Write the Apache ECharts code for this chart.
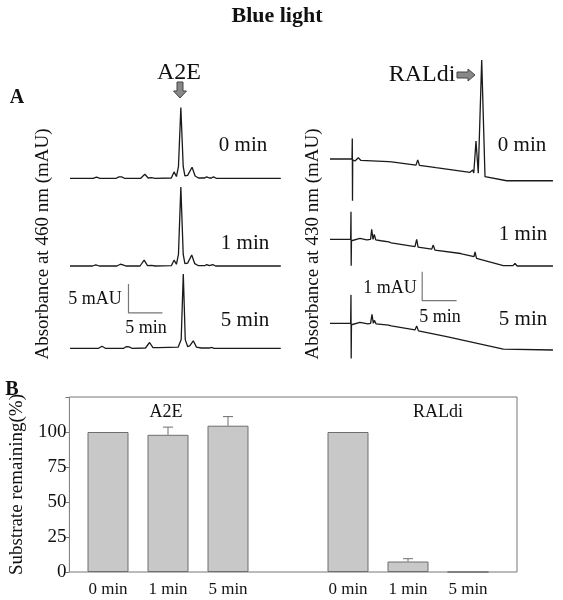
<!DOCTYPE html>
<html>
<head>
<meta charset="utf-8">
<script src="https://cdn.jsdelivr.net/npm/echarts@6/dist/echarts.min.js"></script>
<style>html,body{margin:0;padding:0;background:#fff}#c{width:563px;height:600px}</style>
</head>
<body>
<div id="c"></div>
<script>
// ---------- Panel B data ----------
const barCategories = ['0 min', '1 min', '5 min', '', '0 min', '1 min', '5 min'];
const a2eRemaining = [100, 98, 104.5];
const a2eError = [0, 5.5, 6.5];
const raldiRemaining = [100, 7.5, 0];
const raldiError = [0, 2, 0];
const yTicks = [0, 25, 50, 75, 100];
const groupLabels = ['A2E', 'RALdi'];

// ---------- Panel A data: [time (min), absorbance (mAU)] ----------
const a2eTrace0 = [[0,0],[3.4,0],[3.9,0.2],[4.4,0],[6.8,0],[7.2,0.25],[7.4,0.1],[7.6,0.25],[8.0,0],[10.4,0],[11.0,0.7],[11.5,0.05],[12.0,0.1],[12.5,0],[14.9,0.05],[15.3,1.1],[15.65,0.3],[15.95,2.0],[16.3,12.2],[16.65,2.0],[16.9,0.4],[17.3,0.5],[17.95,1.9],[18.4,0.4],[18.9,0.05],[19.8,0.05],[20.1,0.25],[20.5,0.05],[20.8,0.05],[21.1,0.25],[21.5,0],[31,0]];
const a2eTrace1 = [[0,0],[3.3,0],[3.8,0.2],[4.3,0],[6.9,0],[7.4,0.3],[7.6,0.1],[7.8,0.2],[8.2,0],[10.3,0],[10.9,1.0],[11.4,0.05],[12.0,0.1],[12.5,0],[14.9,0.05],[15.3,1.0],[15.65,0.3],[15.95,2.0],[16.3,13.6],[16.65,2.0],[16.9,0.4],[17.3,0.5],[17.9,1.9],[18.35,0.4],[18.9,0.05],[19.8,0.05],[20.1,0.25],[20.5,0.05],[20.7,0.05],[21.0,0.25],[21.4,0],[31,0]];
const a2eTrace5 = [[0,0],[4.2,0],[4.7,0.35],[5.2,0],[7.9,0],[8.3,0.3],[8.5,0.15],[8.7,0.25],[9.1,0],[11.1,0.05],[11.7,1.0],[12.2,0.1],[13.0,0.1],[15.9,0.2],[16.1,0.3],[16.35,1.5],[16.66,12.8],[16.95,1.5],[17.3,0.3],[17.6,0.4],[18.13,1.3],[18.6,0.2],[19.3,0.05],[20.5,0.05],[20.8,0.15],[21.2,0],[31,0]];

const raldiTrace0 = [[0,0],[3.2,0],[3.24,0.71],[3.27,-1.44],[3.3,-0.03],[3.63,-0.07],[4.11,0.04],[4.5,-0.05],[8.5,-0.09],[8.72,-0.03],[8.95,-0.1],[12.5,-0.21],[12.75,-0.03],[13.0,-0.22],[14.9,-0.28],[15.12,-0.22],[15.4,-0.3],[20.35,-0.46],[20.74,-0.38],[20.9,-0.48],[21.22,0.62],[21.55,-0.49],[22.05,3.41],[22.53,-0.61],[25.68,-0.75],[32.4,-0.75]];
const raldiTrace1 = [[0,0],[3.0,0],[3.05,0.95],[3.08,-0.91],[3.12,-0.05],[3.39,-0.08],[4.36,0.03],[5.33,-0.02],[5.9,0],[6.06,0.34],[6.25,0.0],[6.44,0.17],[6.65,-0.02],[7.41,-0.05],[7.55,0],[7.7,-0.08],[8.53,-0.09],[8.7,-0.05],[8.9,-0.12],[12.35,-0.25],[12.6,0.0],[12.8,-0.27],[14.78,-0.34],[15.01,-0.2],[15.25,-0.37],[19.0,-0.49],[19.14,-0.45],[19.3,-0.51],[20.93,-0.6],[21.08,-0.43],[21.3,-0.66],[21.56,-0.68],[25.19,-0.91],[26.6,-0.91],[26.89,-0.83],[27.2,-0.92],[32.41,-0.92]];
const raldiTrace5 = [[0,0],[3.0,0],[3.05,0.98],[3.08,-1.21],[3.12,-0.05],[3.39,-0.08],[4.36,0.03],[5.5,-0.02],[5.9,0],[6.1,0.31],[6.3,0.0],[6.45,0.1],[6.7,-0.02],[8.53,-0.06],[8.7,-0.02],[8.9,-0.09],[12.35,-0.23],[12.6,-0.09],[12.85,-0.26],[13.08,-0.26],[16.96,-0.46],[25.19,-0.89],[32.41,-0.92]];

// scale bars: [time, mAU] origin, length in min and mAU
const a2eScale = {t: 8.6, y: 6.1, dt: 5, dy: 5};
const raldiScale = {t: 13.4, y: 0.78, dt: 5, dy: 1};
const timeLabels = ['0 min', '1 min', '5 min'];

// ---------- build option ----------
const serif = '"Liberation Serif", "Times New Roman", serif';
const black = '#111';
const traceColor = '#1a1a1a';

const leftTops = [97.1, 184.8, 267.1];
const rightTops = [54.6, 134.9, 218.9];
const grids = [], xAxes = [], yAxes = [], series = [];

leftTops.forEach(function (top) {
  grids.push({left: 70, top: top, width: 210.8, height: 87});
  xAxes.push({type: 'value', min: 0, max: 31, show: false, gridIndex: grids.length - 1});
  yAxes.push({type: 'value', min: -1, max: 14, show: false, gridIndex: grids.length - 1});
});
rightTops.forEach(function (top) {
  grids.push({left: 330, top: top, width: 223.6, height: 150.8});
  xAxes.push({type: 'value', min: 0, max: 32.5, show: false, gridIndex: grids.length - 1});
  yAxes.push({type: 'value', min: -1.6, max: 3.6, show: false, gridIndex: grids.length - 1});
});

[a2eTrace0, a2eTrace1, a2eTrace5, raldiTrace0, raldiTrace1, raldiTrace5].forEach(function (d, i) {
  series.push({type: 'line', xAxisIndex: i, yAxisIndex: i, data: d, symbol: 'none',
    lineStyle: {color: traceColor, width: 1.3}, clip: false, silent: true});
});

function scaleBar(s, idx) {
  series.push({type: 'line', xAxisIndex: idx, yAxisIndex: idx, symbol: 'none', silent: true,
    data: [[s.t, s.y + s.dy], [s.t, s.y], [s.t + s.dt, s.y]],
    lineStyle: {color: '#777', width: 1.2}});
}
scaleBar(a2eScale, 2);
scaleBar(raldiScale, 5);

// Panel B grids
grids.push({left: 67, right: 46, top: 397, bottom: 28, show: true, borderColor: '#777', borderWidth: 1});
xAxes.push({type: 'value', gridIndex: 6, show: false, min: 0, max: 1});
yAxes.push({type: 'value', gridIndex: 6, min: 0, max: 125, interval: 25,
  axisLine: {show: false}, splitLine: {show: false},
  axisTick: {show: true, length: 4, inside: false, lineStyle: {color: '#777'}},
  axisLabel: {color: black, fontFamily: serif, fontSize: 19, margin: 3,
    formatter: function (v) { return yTicks.indexOf(v) >= 0 ? String(v) : ''; }},
  name: 'Substrate remaining(%)', nameLocation: 'middle', nameGap: 42,
  nameTextStyle: {color: black, fontFamily: serif, fontSize: 19}});

grids.push({left: 78, width: 420, top: 397, bottom: 28});
xAxes.push({type: 'category', gridIndex: 7, data: barCategories,
  axisLine: {show: false}, axisTick: {show: false},
  axisLabel: {color: black, fontFamily: serif, fontSize: 17, margin: 9, interval: 0}});
yAxes.push({type: 'value', gridIndex: 7, min: 0, max: 125, show: false});

const barValues = a2eRemaining.concat(['-']).concat(raldiRemaining);
const errValues = a2eError.concat([0]).concat(raldiError);
series.push({type: 'bar', xAxisIndex: 7, yAxisIndex: 7, data: barValues, barWidth: 41,
  itemStyle: {color: '#c8c8c8', borderColor: '#6e6e6e', borderWidth: 1}, silent: true});
series.push({type: 'custom', xAxisIndex: 7, yAxisIndex: 7, silent: true,
  data: barValues.map(function (v, i) { return [i, v === '-' ? 0 : v, errValues[i]]; })
    .filter(function (d) { return d[2] > 0; }),
  renderItem: function (params, api) {
    const base = api.coord([api.value(0), api.value(1)]);
    const top = api.coord([api.value(0), api.value(1) + api.value(2)]);
    return {type: 'group', children: [
      {type: 'line', shape: {x1: base[0], y1: base[1], x2: top[0], y2: top[1]}, style: {stroke: '#6e6e6e', lineWidth: 1}},
      {type: 'line', shape: {x1: top[0] - 5, y1: top[1], x2: top[0] + 5, y2: top[1]}, style: {stroke: '#6e6e6e', lineWidth: 1}}
    ]};
  }});

function txt(x, y, text, size, opts) {
  return Object.assign({type: 'text', x: x, y: y, silent: true,
    style: {text: text, fill: black, font: (opts && opts.bold ? 'bold ' : '') + size + 'px ' + serif,
      textAlign: 'center', textVerticalAlign: 'middle'}}, opts && opts.rot ? {rotation: Math.PI / 2} : {});
}

const graphics = [
  txt(277, 16, 'Blue light', 22, {bold: true}),
  txt(17, 98, 'A', 20, {bold: true}),
  txt(12, 390, 'B', 20, {bold: true}),
  txt(179, 73, 'A2E', 24),
  txt(422, 75, 'RALdi', 24),
  txt(43, 244, 'Absorbance at 460 nm (mAU)', 19, {rot: true}),
  txt(313, 244, 'Absorbance at 430 nm (mAU)', 19, {rot: true}),
  txt(243, 145, timeLabels[0], 21), txt(245, 243, timeLabels[1], 21), txt(245, 320, timeLabels[2], 21),
  txt(522, 145, timeLabels[0], 21), txt(523, 234, timeLabels[1], 21), txt(523, 319, timeLabels[2], 21),
  txt(95, 299, '5 mAU', 18), txt(146, 328, '5 min', 18),
  txt(390, 288, '1 mAU', 18), txt(440, 317, '5 min', 18),
  txt(166, 412, groupLabels[0], 18), txt(438, 412, groupLabels[1], 18),
  {type: 'polygon', silent: true, shape: {points: [[177, 82], [183, 82], [183, 91], [186.5, 91], [180, 98], [173.5, 91], [177, 91]]},
    style: {fill: '#888', stroke: '#444', lineWidth: 1}},
  {type: 'polygon', silent: true, shape: {points: [[457, 72], [468, 72], [468, 69], [475, 75], [468, 81], [468, 78], [457, 78]]},
    style: {fill: '#888', stroke: '#444', lineWidth: 1}}
];

const chart = echarts.init(document.getElementById('c'), null, {renderer: 'canvas'});
chart.setOption({
  animation: false,
  backgroundColor: '#fff',
  grid: grids, xAxis: xAxes, yAxis: yAxes, series: series,
  graphic: graphics
});
</script>
</body>
</html>
